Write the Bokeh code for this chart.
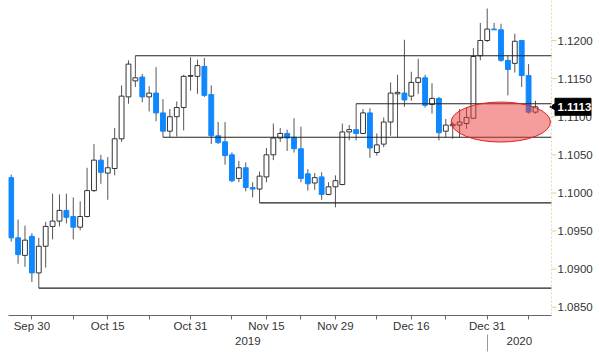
import pandas as pd
from bokeh.plotting import figure
from bokeh.models import (ColumnDataSource, FixedTicker, LinearAxis, Range1d, Span)
from bokeh.core.properties import value
from bokeh.embed import file_html
from bokeh.resources import INLINE

# ---------------- data ----------------
dates = pd.bdate_range("2019-09-25", "2020-01-09").strftime("%Y-%m-%d").tolist()

opens = [1.1020, 1.0941, 1.0918, 1.0943, 1.0895, 1.0930, 1.0956, 1.0963, 1.0977, 1.0969,
         1.0955, 1.0969, 1.1003, 1.1043, 1.1026, 1.1032, 1.1071, 1.1126, 1.1147, 1.1152,
         1.1126, 1.1131, 1.1105, 1.1081, 1.1100, 1.1112, 1.1153, 1.1153, 1.1166, 1.1129,
         1.1075, 1.1067, 1.1050, 1.1019, 1.1033, 1.1007, 1.1005, 1.1021, 1.1050, 1.1072,
         1.1078, 1.1073, 1.1058, 1.1025, 1.1013, 1.1021, 1.0998, 1.1008, 1.1011, 1.1080,
         1.1083, 1.1078, 1.1105, 1.1053, 1.1064, 1.1093, 1.1130, 1.1131, 1.1127, 1.1145,
         1.1151, 1.1116, 1.1124, 1.1081, 1.1088, 1.1089, 1.1091, 1.1098, 1.1180, 1.1200,
         1.1215, 1.1214, 1.1174, 1.1170, 1.1200, 1.1154, 1.1106]
highs = [1.1024, 1.0965, 1.0957, 1.0947, 1.0941, 1.0962, 1.0999, 1.0998, 1.0999, 1.0994,
         1.0989, 1.1033, 1.1064, 1.1050, 1.1047, 1.1085, 1.1141, 1.1174, 1.1180, 1.1156,
         1.1140, 1.1165, 1.1123, 1.1110, 1.1120, 1.1155, 1.1178, 1.1175, 1.1177, 1.1141,
         1.1093, 1.1093, 1.1053, 1.1042, 1.1040, 1.1014, 1.1028, 1.1059, 1.1091, 1.1085,
         1.1083, 1.1098, 1.1087, 1.1031, 1.1026, 1.1027, 1.1014, 1.1023, 1.1091, 1.1089,
         1.1117, 1.1110, 1.1111, 1.1078, 1.1099, 1.1145, 1.1155, 1.1201, 1.1159, 1.1176,
         1.1155, 1.1144, 1.1126, 1.1097, 1.1093, 1.1110, 1.1112, 1.1190, 1.1223, 1.1242,
         1.1223, 1.1222, 1.1180, 1.1209, 1.1201, 1.1169, 1.1121]
lows = [1.0936, 1.0907, 1.0903, 1.0883, 1.0875, 1.0902, 1.0939, 1.0956, 1.0960, 1.0939,
        1.0951, 1.0968, 1.1001, 1.1012, 1.0991, 1.1023, 1.1067, 1.1117, 1.1139, 1.1119,
        1.1107, 1.1094, 1.1073, 1.1073, 1.1074, 1.1082, 1.1134, 1.1130, 1.1126, 1.1064,
        1.1064, 1.1037, 1.1014, 1.1014, 1.1002, 1.0994, 1.0987, 1.1014, 1.1043, 1.1067,
        1.1055, 1.1053, 1.1014, 1.1003, 1.1004, 1.0991, 1.0997, 1.0981, 1.1010, 1.1069,
        1.1069, 1.1078, 1.1046, 1.1049, 1.1060, 1.1075, 1.1073, 1.1113, 1.1121, 1.1130,
        1.1112, 1.1104, 1.1069, 1.1073, 1.1071, 1.1073, 1.1084, 1.1098, 1.1174, 1.1198,
        1.1214, 1.1172, 1.1128, 1.1158, 1.1139, 1.1104, 1.1104]
closes = [1.0941, 1.0919, 1.0938, 1.0895, 1.0930, 1.0956, 1.0963, 1.0977, 1.0968, 1.0955,
          1.0969, 1.1003, 1.1043, 1.1027, 1.1033, 1.1071, 1.1127, 1.1169, 1.1151, 1.1126,
          1.1131, 1.1105, 1.1081, 1.1100, 1.1112, 1.1153, 1.1154, 1.1167, 1.1128, 1.1075,
          1.1066, 1.1049, 1.1016, 1.1033, 1.1007, 1.1005, 1.1022, 1.1050, 1.1072, 1.1078,
          1.1072, 1.1058, 1.1019, 1.1012, 1.1020, 1.0998, 1.1008, 1.1016, 1.1080, 1.1083,
          1.1078, 1.1105, 1.1059, 1.1063, 1.1093, 1.1131, 1.1132, 1.1122, 1.1145, 1.1151,
          1.1115, 1.1124, 1.1079, 1.1089, 1.1090, 1.1093, 1.1099, 1.1179, 1.1200, 1.1215,
          1.1214, 1.1174, 1.1162, 1.1199, 1.1154, 1.1106, 1.1113]

labeled_tick_dates = ["2019-09-30", "2019-10-15", "2019-10-31", "2019-11-15",
                      "2019-11-29", "2019-12-16", "2019-12-31"]
labeled_tick_text = ["Sep 30", "Oct 15", "Oct 31", "Nov 15", "Nov 29", "Dec 16", "Dec 31"]
plain_tick_dates = ["2019-10-08", "2019-10-23", "2019-11-08", "2019-11-22",
                    "2019-12-09", "2019-12-23", "2020-01-08"]
year_labels = ["2019", "2020"]
year_end_date = "2019-12-31"

y_ticks = [1.0850, 1.0900, 1.0950, 1.1000, 1.1050, 1.1100, 1.1150, 1.1200]

level_prices = [1.1180, 1.1117, 1.1073, 1.0987, 1.0875]
level_start_dates = ["2019-10-21", "2019-12-04", "2019-10-25", "2019-11-14", "2019-10-01"]

highlight_x, highlight_y = 70.97, 1.1093
highlight_w, highlight_h = 14.4, 0.00525

# ---------------- layout / styling ----------------
BLUE = "#0F87FF"
FONT = "Liberation Sans"
TXT = "#333333"
W, H = 600, 355
LEFT = 8
x_start, x_end = -0.39, 78.32          # candle area (frame part left of the price scale)
ppu = 543 / (x_end - x_start)          # pixels per trading day
x_full = x_start + (W - LEFT) / ppu    # frame continues under the price scale
y_lo, y_hi = 1.08391, 1.12525

pos = {d: i for i, d in enumerate(dates)}
idx = list(range(len(dates)))
bull = [c >= o for o, c in zip(opens, closes)]
src = ColumnDataSource(dict(
    x=idx, h=highs, l=lows,
    top=[max(o, c) for o, c in zip(opens, closes)],
    bottom=[min(o, c) for o, c in zip(opens, closes)],
    fill=["white" if b else BLUE for b in bull],
    line=["#333333" if b else BLUE for b in bull],
))

p = figure(width=W, height=H, x_range=Range1d(x_start, x_full),
           y_range=Range1d(y_lo, y_hi), y_axis_location=None,
           output_backend="svg", toolbar_location=None,
           min_border_left=LEFT, min_border_right=0, min_border_top=0,
           min_border_bottom=40, outline_line_color=None,
           background_fill_color="white", border_fill_color="white")
p.xgrid.visible = False
p.ygrid.visible = False

# candles
p.segment(x0="x", y0="h", x1="x", y1="l", source=src, line_color="#555555", line_width=1)
p.vbar(x="x", width=0.7, top="top", bottom="bottom", fill_color="fill",
       line_color="line", line_width=1, source=src)

# support / resistance levels
p.segment(x0=[pos[d] for d in level_start_dates], y0=level_prices,
          x1=[x_end] * len(level_prices), y1=level_prices,
          line_color="#222222", line_width=1.2)

# highlight ellipse
p.ellipse(x=[highlight_x], y=[highlight_y], width=[highlight_w], height=[highlight_h],
          fill_color="#EB3C3C", fill_alpha=0.5, line_color="#E02020", line_width=1)

# ---- price scale drawn on the right ----
p.add_layout(Span(location=x_end, dimension="height", line_color="#EAD8B0",
                  line_dash="2 2", line_width=1))
p.segment(x0=[x_end] * len(y_ticks), y0=y_ticks,
          x1=[x_end + 5 / ppu] * len(y_ticks), y1=y_ticks,
          line_color="#E8CFA0", line_width=1)
p.text(x=[x_end] * len(y_ticks), y=y_ticks, text=[f"{t:.4f}" for t in y_ticks],
       x_offset=6, text_align="left", text_baseline="middle",
       text_font=value(FONT), text_font_size="11.5px", text_color=TXT)

# last price tag
last = closes[-1]
p.scatter(x=[x_end + 3.5 / ppu], y=[last], marker="triangle", angle=1.5708,
          size=9, fill_color="black", line_color="black")
p.rect(x=[x_end + 21.5 / ppu], y=[last], width=36, height=17,
       width_units="screen", height_units="screen",
       fill_color="black", line_color="black")
p.text(x=[x_end], y=[last], text=[f"{last:.4f}"], x_offset=6, text_align="left",
       text_baseline="middle", text_font=value(FONT), text_font_size="11.5px",
       text_font_style="bold", text_color="white")

# x axis
xa = p.xaxis[0]
xt = sorted([pos[d] for d in labeled_tick_dates] + [pos[d] for d in plain_tick_dates])
xa.ticker = FixedTicker(ticks=xt)
ov = {pos[d]: "" for d in plain_tick_dates}
ov.update({pos[d]: t for d, t in zip(labeled_tick_dates, labeled_tick_text)})
xa.major_label_overrides = ov
xa.bounds = (x_start, x_end)
xa.axis_line_color = "#666666"
xa.major_tick_line_color = "#666666"
xa.major_tick_out = 4
xa.major_tick_in = 0
xa.minor_tick_line_color = None
xa.major_label_standoff = 0
xa.major_label_text_font = FONT
xa.major_label_text_font_size = "11.5px"
xa.major_label_text_color = TXT

# year axis
sep = pos[year_end_date]
c19 = round((x_start + sep) / 2, 2)
c20 = round((sep + x_end) / 2, 2)
ya2 = LinearAxis(ticker=FixedTicker(ticks=[c19, c20], minor_ticks=[sep]),
                 major_label_overrides={c19: year_labels[0], c20: year_labels[1]},
                 axis_line_color=None, major_tick_line_color=None,
                 minor_tick_line_color="#999999", minor_tick_out=17, minor_tick_in=0,
                 major_label_standoff=-15, major_label_text_font=FONT,
                 major_label_text_font_size="11.5px", major_label_text_color=TXT)
p.add_layout(ya2, "below")

open("out.html", "w").write(file_html(p, INLINE))
